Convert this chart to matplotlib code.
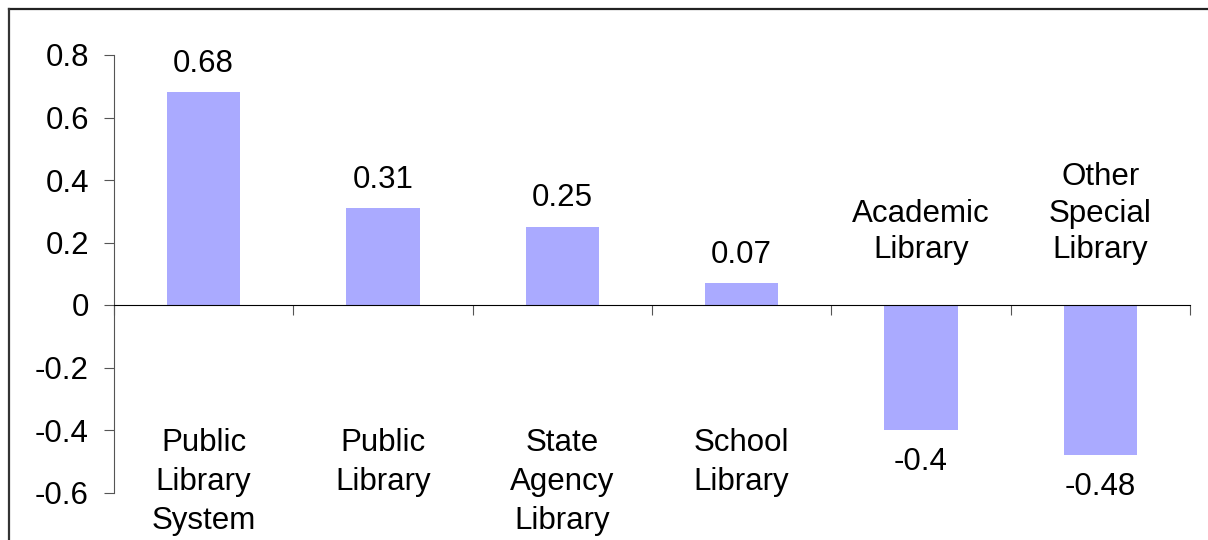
import matplotlib
matplotlib.use("Agg")
from matplotlib import pyplot as plt
from matplotlib.lines import Line2D
import numpy as np

categories = ["Public\nLibrary\nSystem", "Public\nLibrary", "State\nAgency\nLibrary",
              "School\nLibrary", "Academic\nLibrary", "Other\nSpecial\nLibrary"]
values = [0.68, 0.31, 0.25, 0.07, -0.4, -0.48]
value_labels = ["0.68", "0.31", "0.25", "0.07", "-0.4", "-0.48"]
yticks = [-0.6, -0.4, -0.2, 0, 0.2, 0.4, 0.6, 0.8]
ytick_labels = ["-0.6", "-0.4", "-0.2", "0", "0.2", "0.4", "0.6", "0.8"]

plt.rcParams['font.family'] = ['Liberation Sans', 'DejaVu Sans']
FS = 22.5

fig = plt.figure(figsize=(12.08, 5.4), dpi=100)
ax = fig.add_axes([114/1208, 1 - 492.5/540, (1190-114)/1208, (492.5-55)/540])

x = np.arange(len(values))
ax.bar(x, values, width=0.41, color='#aaaaff', zorder=2)

ax.set_xlim(-0.5, len(values) - 0.5)
ax.set_ylim(-0.6, 0.8)
ax.set_yticks(yticks)
ax.set_yticklabels(ytick_labels, fontsize=FS)

# x axis sits at zero, ticks between categories
ax.spines['bottom'].set_position(('data', 0))
ax.spines['bottom'].set_color('black')
ax.spines['bottom'].set_zorder(3)
ax.spines['left'].set_color('#555555')
ax.spines['top'].set_visible(False)
ax.spines['right'].set_visible(False)
ax.set_xticks(np.arange(len(values) + 1) - 0.5)
ax.set_xticklabels([])
ax.tick_params(axis='x', direction='out', length=7, color='#555555')
ax.tick_params(axis='y', direction='out', length=7, color='#555555', pad=11)

for i, v in enumerate(values):
    off = 20.5 if v >= 0 else -22.8
    ax.annotate(value_labels[i], (x[i], v), xytext=(0, off), textcoords='offset points',
                ha='center', va='center', fontsize=FS)
    if v >= 0:
        ax.text(x[i], -0.393, categories[i], ha='center', va='top', fontsize=FS,
                linespacing=1.4)
    else:
        ax.text(x[i], 0.128, categories[i], ha='center', va='bottom', fontsize=FS,
                linespacing=1.28)

# outer frame (top and left edges visible)
fig.add_artist(Line2D([9/1208, 1], [1 - 9/540, 1 - 9/540], transform=fig.transFigure,
                      color='#222222', lw=1.6))
fig.add_artist(Line2D([9/1208, 9/1208], [1 - 9/540, 0], transform=fig.transFigure,
                      color='#333333', lw=1.6))

fig.savefig("out.png", dpi=100)
